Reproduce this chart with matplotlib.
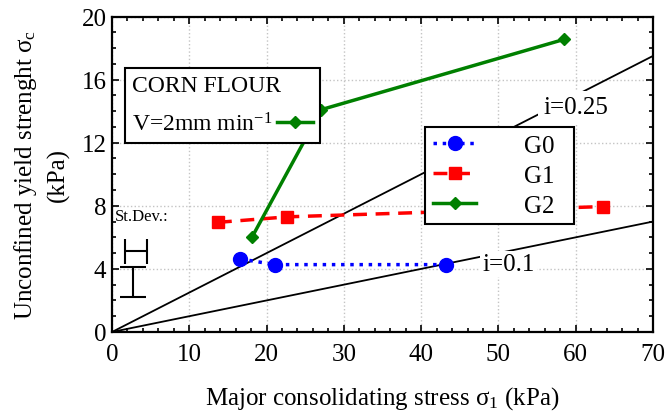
import numpy as np
import matplotlib
matplotlib.use('Agg')
import matplotlib.pyplot as plt
from matplotlib.ticker import MultipleLocator

plt.rcParams['font.family'] = ['Liberation Serif', 'DejaVu Serif']
plt.rcParams['mathtext.fontset'] = 'custom'
plt.rcParams['mathtext.rm'] = 'Liberation Serif'
plt.rcParams['mathtext.it'] = 'Liberation Serif:italic'

# dane
g0_x = [16.6, 21.1, 43.2]
g0_y = [4.63, 4.27, 4.27]
g1_x = [13.7, 22.7, 63.5]
g1_y = [6.95, 7.3, 7.95]
g2_x = [18.1, 27.1, 58.5]
g2_y = [6.0, 14.1, 18.55]

# proste i = sigma_c / sigma_1
slopes = [0.25, 0.1]
slope_labels = ['i=0.25', 'i=0.1']
slope_label_pos = [(55.8, 14.26), (47.9, 4.3)]

# odchylenie standardowe (x i y)
sd_x = [3.1, 2.7]
sd_y = [5.13, 3.17]
sd_xerr = [1.42, 0]
sd_yerr = [0, 0.95]

fig = plt.figure(figsize=(6.68, 4.14), dpi=100)
ax = fig.add_axes([0.1677, 0.1957, 0.8098, 0.762])

xs = np.array([0, 70])
pads = [4, 1.5]
for s, lab, pos, p in zip(slopes, slope_labels, slope_label_pos, pads):
    ax.plot(xs, s * xs, color='black', lw=1.3, zorder=2)
    ax.text(pos[0], pos[1], lab, fontsize=18, ha='left', va='center', zorder=3,
            bbox=dict(facecolor='white', edgecolor='none', pad=p))

l0, = ax.plot(g0_x, g0_y, color='blue', ls=':', lw=2.5, marker='o', ms=10, label='G0', zorder=4)
l1, = ax.plot(g1_x, g1_y, color='red', ls=(0, (4, 2.5)), lw=2.5, marker='s', ms=9, label='G1', zorder=4)
l2, = ax.plot(g2_x, g2_y, color='green', ls='-', lw=2.5, marker='D', ms=6.5, label='G2', zorder=5)

ax.text(0.4, 7.35, 'St.Dev.:', fontsize=12, ha='left', va='center')
ax.errorbar(sd_x[0], sd_y[0], xerr=sd_xerr[0], color='black', lw=1.5, capsize=9, capthick=1.5)
ax.errorbar(sd_x[1], sd_y[1], yerr=sd_yerr[1], color='black', lw=1.5, capsize=9.5, capthick=1.5)

ax.set_xlim(0, 70)
ax.set_ylim(0, 20)
ax.xaxis.set_major_locator(MultipleLocator(10))
ax.xaxis.set_minor_locator(MultipleLocator(2))
ax.yaxis.set_major_locator(MultipleLocator(4))
ax.yaxis.set_minor_locator(MultipleLocator(1))
ax.tick_params(which='both', direction='in', top=True, right=True, width=1.2)
ax.tick_params(which='major', length=5, labelsize=18)
ax.tick_params(which='minor', length=3)
ax.tick_params(axis='x', pad=8)
ax.tick_params(axis='y', pad=4)
ax.grid(True, which='major', ls=':', color='#c4c4c4', lw=1)
ax.set_axisbelow(True)
for sp in ax.spines.values():
    sp.set_linewidth(1.6)

ax.set_xlabel('Major consolidating stress σ$_1$ (kPa)', fontsize=18, labelpad=14)
ax.set_ylabel('Unconfined yield strenght σ$_\\mathrm{c}$\n(kPa)', fontsize=18,
              labelpad=8, linespacing=1.45)

leg1 = ax.legend([l2], ['V=2mm min$^{-1}$'], title='CORN FLOUR', title_fontsize=17,
                 fontsize=17, loc='upper left', bbox_to_anchor=(0.024, 0.837),
                 markerfirst=False, handlelength=1.5, handletextpad=0.2,
                 fancybox=False, framealpha=1, edgecolor='black', borderpad=0.3,
                 borderaxespad=0, labelspacing=0.7)
leg1._legend_box.align = 'left'
leg1.get_frame().set_linewidth(1.5)
ax.add_artist(leg1)

leg2 = ax.legend([l0, l1, l2], ['G0  ', 'G1  ', 'G2  '], fontsize=18, loc='upper left',
                 bbox_to_anchor=(0.579, 0.650), handlelength=1.75, handletextpad=1.9,
                 fancybox=False, framealpha=1, edgecolor='black', borderpad=0.3,
                 borderaxespad=0, labelspacing=0.3)
leg2.get_frame().set_linewidth(1.5)
leg2.set_zorder(6)

fig.savefig('out.png', dpi=100)
